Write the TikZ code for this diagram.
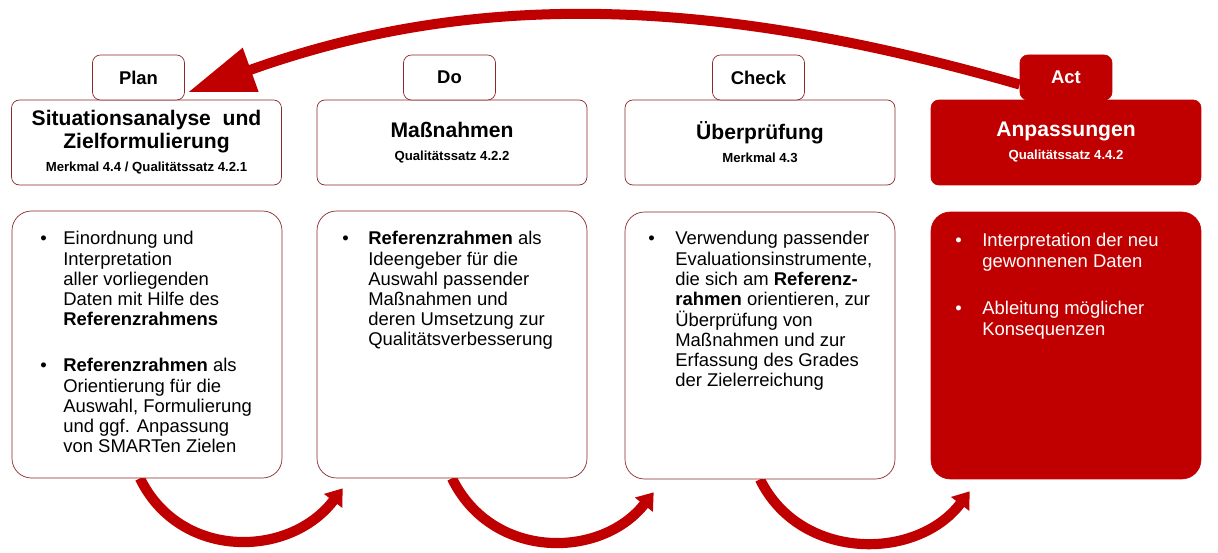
\documentclass[tikz,border=0pt]{standalone}
\usepackage{fontspec}
\setmainfont{Liberation Sans}
\usetikzlibrary{arrows.meta,backgrounds}
\definecolor{pdcaRed}{RGB}{192,0,0}
\definecolor{pdcaLine}{RGB}{140,40,40}
\newcommand\hdfont{\fontsize{12}{13.1}\selectfont\bfseries}
\newcommand\hdsub{\fontsize{7.5}{8}\selectfont\bfseries}
\newcommand\txtlines[1]{\begin{tabular}[t]{@{}l@{}}#1\end{tabular}}
\tikzset{
  tabbox/.style={draw=pdcaLine,fill=white,rounded corners=4.5pt,minimum width=1.84cm,minimum height=0.9cm,font=\fontsize{10.5}{12}\selectfont\bfseries},
  headbox/.style={draw=pdcaLine,fill=white,rounded corners=4.5pt,minimum width=5.4cm,minimum height=1.7cm,align=center,inner sep=0pt,font=\hdfont},
  bodybox/.style={draw=pdcaLine,fill=white,rounded corners=11pt,minimum width=5.4cm,minimum height=5.34cm},
  actbox/.style={fill=pdcaRed,draw=pdcaRed,text=white},
  bodytext/.style={anchor=base west,inner sep=0pt,font=\fontsize{10.5}{11.4}\selectfont},
  bulletmark/.style={anchor=base west,inner sep=0pt,font=\fontsize{10.5}{11.4}\selectfont},
  cyclearrow/.style={draw=pdcaRed,line width=5.8pt,-{Triangle[length=9pt,width=12.5pt]}},
  backarrow/.style={draw=pdcaRed,line width=5.7pt,-{Triangle[length=38pt,width=25pt]}}
}
\begin{document}
\begin{tikzpicture}[x=0.02cm,y=-0.02cm]
\useasboundingbox (0,0) rectangle (1218,553);
% Kopfzeilen
\draw(146.5,142.5)node[headbox](h1){Situationsanalyse\ \ und\\Zielformulierung\\{\hdsub Merkmal 4.4 / Qualitätssatz 4.2.1}};
\draw(452,142.5)node[headbox](h2){Maßnahmen\\{\hdsub Qualitätssatz 4.2.2}};
\draw(760,142.5)node[headbox](h3){Überprüfung\\{\hdsub Merkmal 4.3}};
\draw(1066,142.5)node[headbox,actbox](h4){Anpassungen\\{\hdsub Qualitätssatz 4.4.2}};
% Reiter
\draw(138.5,77.5)node[tabbox](plan){Plan};
\draw(449.5,77.5)node[tabbox](do){Do};
\draw(758.5,77.5)node[tabbox](check){Check};
\draw(1066,77.5)node[tabbox,actbox](act){Act};
% Inhalte
\draw(147,344.5)node[bodybox](b1){};
\draw(452,344.5)node[bodybox](b2){};
\draw(760,345.5)node[bodybox](b3){};
\draw(1066,345.5)node[bodybox,actbox](b4){};
\draw(40,245)node[bulletmark](b1d1){\textbullet};
\draw(63,245)node[bodytext](b1t1){\txtlines{Einordnung und\\Interpretation\\aller vorliegenden\\Daten mit Hilfe des\\\textbf{Referenzrahmens}}};
\draw(40,372)node[bulletmark](b1d2){\textbullet};
\draw(63,372)node[bodytext](b1t2){\txtlines{\textbf{Referenzrahmen} als\\Orientierung für die\\Auswahl, Formulierung\\und ggf. Anpassung\\von SMARTen Zielen}};
\draw(342,245)node[bulletmark](b2d1){\textbullet};
\draw(368,245)node[bodytext](b2t1){\txtlines{\textbf{Referenzrahmen} als\\Ideengeber für die\\Auswahl passender\\Maßnahmen und\\deren Umsetzung zur\\Qualitätsverbesserung}};
\draw(648,245)node[bulletmark](b3d1){\textbullet};
\draw(675,245)node[bodytext](b3t1){\txtlines{Verwendung passender\\Evaluationsinstrumente,\\die sich am \textbf{Referenz-}\\\textbf{rahmen} orientieren, zur\\Überprüfung von\\Maßnahmen und zur\\Erfassung des Grades\\der Zielerreichung}};
\draw(955,247)node[bulletmark,text=white](b4d1){\textbullet};
\draw(982,247)node[bodytext,text=white](b4t1){\txtlines{Interpretation der neu\\gewonnenen Daten}};
\draw(955,315)node[bulletmark,text=white](b4d2){\textbullet};
\draw(982,315)node[bodytext,text=white](b4t2){\txtlines{Ableitung möglicher\\Konsequenzen}};
% Pfeile
\begin{scope}[on background layer]
\draw[cyclearrow]([xshift=-4pt]b1.south) .. controls +(40,82) and +(-53,70) .. ([shift={(26,10)}]b2.south west);
\draw[cyclearrow](b2.south) .. controls +(40,82) and +(-53,67) .. ([shift={(29,13)}]b3.south west);
\draw[cyclearrow](b3.south) .. controls +(40,82) and +(-53,70) .. ([shift={(39,12)}]b4.south west);
\draw[backarrow]([yshift=-4pt]act.west) .. controls +(-304.5,-87.5) and +(288,-103.5) .. ([shift={(3,-8)}]plan.south east);
\end{scope}
\end{tikzpicture}
\end{document}
